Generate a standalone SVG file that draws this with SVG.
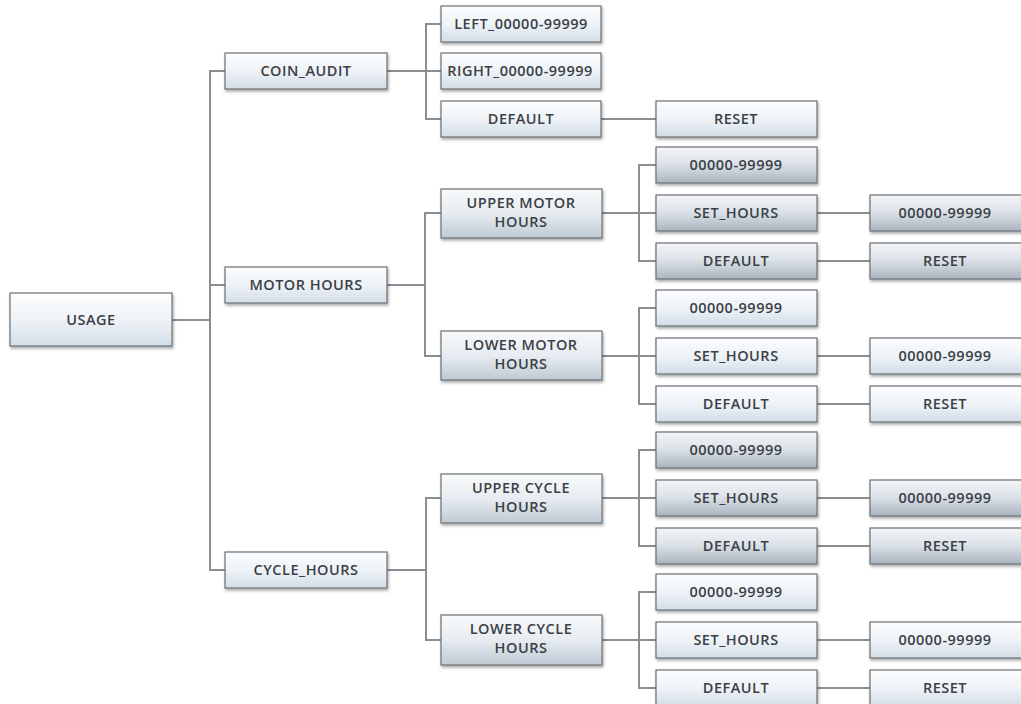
<svg xmlns="http://www.w3.org/2000/svg" width="1021" height="704" viewBox="0 0 1021 704">
<defs>
<linearGradient id="gl" x1="0" y1="0" x2="0" y2="1">
<stop offset="0" stop-color="#fcfdfe"/>
<stop offset="0.5" stop-color="#eef3f7"/>
<stop offset="1" stop-color="#d3dde7"/>
</linearGradient>
<linearGradient id="gd" x1="0" y1="0" x2="0" y2="1">
<stop offset="0" stop-color="#f4f6f8"/>
<stop offset="0.45" stop-color="#dde3e9"/>
<stop offset="1" stop-color="#aab5c0"/>
</linearGradient>
<linearGradient id="gm" x1="0" y1="0" x2="0" y2="1">
<stop offset="0" stop-color="#f8fafb"/>
<stop offset="0.5" stop-color="#e6ecf1"/>
<stop offset="1" stop-color="#bfcad4"/>
</linearGradient>
<filter id="sh" x="-10%" y="-20%" width="130%" height="160%">
<feDropShadow dx="1" dy="2" stdDeviation="1.5" flood-color="#000" flood-opacity="0.35"/>
</filter>
</defs>
<style>
.b{stroke:#6c7075;stroke-width:1.2;filter:url(#sh)}
.l{fill:url(#gl)}
.d{fill:url(#gd)}
.m{fill:url(#gm)}
text{font-family:"Open Sans","Liberation Sans",sans-serif;font-weight:600;font-size:14.5px;fill:#3b4046;text-anchor:middle;letter-spacing:0.5px}
.c{fill:none;stroke:#8a8d91;stroke-width:2}
</style>
<rect width="1021" height="704" fill="#ffffff"/>
<g id="connectors">
<path class="c" d="M172 320 H210 M225 71 H210 V570 H225 M210 285 H225"/>
<path class="c" d="M387 71 H426 M441 24 H426 V119 H441 M426 71 H441 M601 119 H656"/>
<path class="c" d="M387 285 H425 M441 213 H425 V356 H441"/>
<path class="c" d="M387 570 H426 M441 498 H426 V640 H441"/>
<path class="c" d="M602 213 H639 M656 165 H639 V261 H656 M639 213 H656 M817 213 H870 M817 261 H870"/>
<path class="c" d="M602 356 H639 M656 308 H639 V404 H656 M639 356 H656 M817 356 H870 M817 404 H870"/>
<path class="c" d="M602 498 H639 M656 450 H639 V546 H656 M639 498 H656 M817 498 H870 M817 546 H870"/>
<path class="c" d="M602 640 H639 M656 592 H639 V688 H656 M639 640 H656 M817 640 H870 M817 688 H870"/>
</g>
<g id="usage"><rect class="b l" x="10" y="293" width="162" height="53"/><text x="91" y="325">USAGE</text></g>
<g id="coin_audit"><rect class="b l" x="225" y="53" width="162" height="36"/><text x="306" y="76">COIN_AUDIT</text></g>
<g id="motor_hours"><rect class="b l" x="225" y="267" width="162" height="36"/><text x="306" y="290">MOTOR HOURS</text></g>
<g id="cycle_hours"><rect class="b l" x="225" y="552" width="162" height="36"/><text x="306" y="575">CYCLE_HOURS</text></g>
<g id="coin_left"><rect class="b l" x="441" y="6" width="160" height="36"/><text x="521" y="29">LEFT_00000-99999</text></g>
<g id="coin_right"><rect class="b l" x="441" y="53" width="160" height="36"/><text x="520" y="76">RIGHT_00000-99999</text></g>
<g id="coin_default"><rect class="b l" x="441" y="101" width="160" height="36"/><text x="521" y="124">DEFAULT</text></g>
<g id="coin_reset"><rect class="b l" x="656" y="101" width="161" height="36"/><text x="736" y="124">RESET</text></g>
<g id="upper_motor"><rect class="b m" x="441" y="189" width="161" height="49"/><text x="521" y="208">UPPER MOTOR</text><text x="521" y="227">HOURS</text></g>
<g id="lower_motor"><rect class="b m" x="441" y="331" width="161" height="49"/><text x="521" y="350">LOWER MOTOR</text><text x="521" y="369">HOURS</text></g>
<g id="upper_cycle"><rect class="b m" x="441" y="474" width="161" height="49"/><text x="521" y="493">UPPER CYCLE</text><text x="521" y="512">HOURS</text></g>
<g id="lower_cycle"><rect class="b m" x="441" y="615" width="161" height="50"/><text x="521" y="634">LOWER CYCLE</text><text x="521" y="653">HOURS</text></g>
<g id="um_range"><rect class="b d" x="656" y="147" width="161" height="36"/><text x="736" y="170">00000-99999</text></g>
<g id="um_set"><rect class="b d" x="656" y="195" width="161" height="36"/><text x="736" y="218">SET_HOURS</text></g>
<g id="um_default"><rect class="b d" x="656" y="243" width="161" height="36"/><text x="736" y="266">DEFAULT</text></g>
<g id="um_set_range"><rect class="b d" x="870" y="195" width="160" height="36"/><text x="945" y="218">00000-99999</text></g>
<g id="um_reset"><rect class="b d" x="870" y="243" width="160" height="36"/><text x="945" y="266">RESET</text></g>
<g id="lm_range"><rect class="b l" x="656" y="290" width="161" height="36"/><text x="736" y="313">00000-99999</text></g>
<g id="lm_set"><rect class="b l" x="656" y="338" width="161" height="36"/><text x="736" y="361">SET_HOURS</text></g>
<g id="lm_default"><rect class="b l" x="656" y="386" width="161" height="36"/><text x="736" y="409">DEFAULT</text></g>
<g id="lm_set_range"><rect class="b l" x="870" y="338" width="160" height="36"/><text x="945" y="361">00000-99999</text></g>
<g id="lm_reset"><rect class="b l" x="870" y="386" width="160" height="36"/><text x="945" y="409">RESET</text></g>
<g id="uc_range"><rect class="b d" x="656" y="432" width="161" height="36"/><text x="736" y="455">00000-99999</text></g>
<g id="uc_set"><rect class="b d" x="656" y="480" width="161" height="36"/><text x="736" y="503">SET_HOURS</text></g>
<g id="uc_default"><rect class="b d" x="656" y="528" width="161" height="36"/><text x="736" y="551">DEFAULT</text></g>
<g id="uc_set_range"><rect class="b d" x="870" y="480" width="160" height="36"/><text x="945" y="503">00000-99999</text></g>
<g id="uc_reset"><rect class="b d" x="870" y="528" width="160" height="36"/><text x="945" y="551">RESET</text></g>
<g id="lc_range"><rect class="b l" x="656" y="574" width="161" height="36"/><text x="736" y="597">00000-99999</text></g>
<g id="lc_set"><rect class="b l" x="656" y="622" width="161" height="36"/><text x="736" y="645">SET_HOURS</text></g>
<g id="lc_default"><rect class="b l" x="656" y="670" width="161" height="36"/><text x="736" y="693">DEFAULT</text></g>
<g id="lc_set_range"><rect class="b l" x="870" y="622" width="160" height="36"/><text x="945" y="645">00000-99999</text></g>
<g id="lc_reset"><rect class="b l" x="870" y="670" width="160" height="36"/><text x="945" y="693">RESET</text></g>
</svg>
